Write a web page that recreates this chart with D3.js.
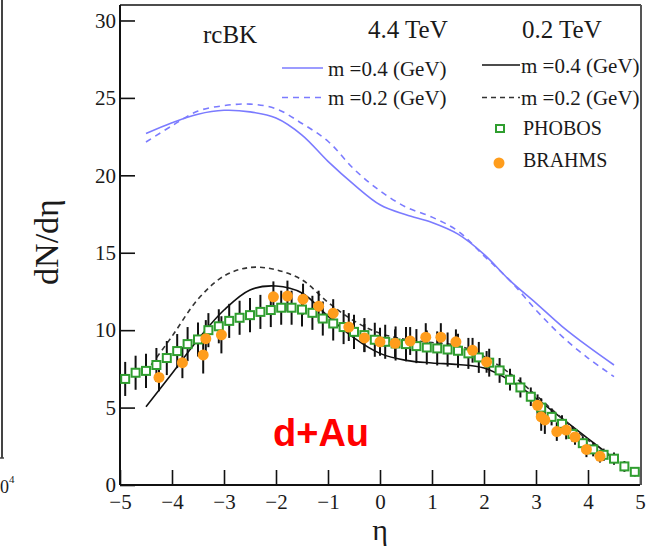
<!DOCTYPE html>
<html>
<head>
<meta charset="utf-8">
<script src="https://cdn.jsdelivr.net/npm/d3@7"></script>
<style>
  body { margin: 0; background: #fff; }
  text { font-family: "Liberation Serif", "DejaVu Serif", serif; fill: #1a1a1a; }
</style>
</head>
<body>
<div id="chart"></div>
<script>
// data
var curveEta = [-4.5, -4, -3.5, -3, -2.5, -2, -1.5, -1, -0.5, 0, 0.5, 1, 1.5, 2, 2.5, 3, 3.5, 4, 4.5];
var lhcM04 = [22.7, 23.4, 23.95, 24.2, 24.1, 23.7, 22.6, 20.9, 19.4, 18.1, 17.45, 16.95, 16.2, 14.9, 13.2, 11.75, 10.25, 8.95, 7.75];
var lhcM02 = [22.15, 23.2, 24.15, 24.5, 24.6, 24.3, 23.35, 22.2, 20.4, 19.0, 17.95, 17.3, 16.4, 14.8, 13.2, 11.3, 9.6, 8.2, 7.0];
var rhicM04 = [5.05, 7.2, 9.4, 11.3, 12.6, 12.85, 12.4, 10.9, 9.5, 8.5, 8.05, 7.88, 7.78, 7.55, 6.75, 5.6, 4.3, 3.0, 1.7];
var rhicM02 = [7.3, 9.6, 12.0, 13.5, 14.05, 13.9, 13.25, 11.8, 10.6, 9.8, 9.4, 9.2, 9.0, 8.3, 7.2, 5.8, 4.3, 2.9, 1.7];

var phobosEta = [-4.9, -4.7, -4.5, -4.3, -4.1, -3.9, -3.7, -3.5, -3.3, -3.1, -2.9, -2.7, -2.5, -2.3, -2.1, -1.9, -1.7, -1.5, -1.3, -1.1,
                 -0.9, -0.7, -0.5, -0.3, -0.1, 0.1, 0.3, 0.5, 0.7, 0.9, 1.1, 1.3, 1.5, 1.7, 1.9, 2.1, 2.3, 2.5, 2.7, 2.9,
                 3.1, 3.3, 3.5, 3.7, 3.9, 4.1, 4.3, 4.5, 4.7, 4.9];
var phobosN = [6.85, 7.25, 7.37, 7.75, 8.2, 8.65, 9.1, 9.4, 10.0, 10.25, 10.6, 10.8, 10.97, 11.18, 11.3, 11.45, 11.45, 11.33, 11.12, 10.75,
               10.43, 10.2, 9.89, 9.68, 9.38, 9.25, 9.14, 9.1, 8.97, 8.88, 8.82, 8.75, 8.67, 8.5, 8.24, 7.9, 7.4, 6.8, 6.3, 5.7,
               5.0, 4.4, 3.95, 3.3, 2.7, 2.3, 1.95, 1.7, 1.2, 0.85];
var phobosErr = [1.1, 1.1, 1.1, 1.1, 1.1, 1.1, 1.1, 1.1, 1.1, 1.1, 1.1, 1.1, 1.1, 1.1, 1.1, 1.1, 1.1, 1.1, 1.1, 1.1,
                 1.1, 1.1, 1.1, 1.1, 1.1, 1.1, 1.1, 1.1, 1.1, 1.1, 1.1, 1.1, 1.1, 1.0, 1.0, 0.9, 0.8, 0.7, 0.65, 0.6,
                 0.6, 0.55, 0.55, 0.5, 0.45, 0.45, 0.4, 0.4, 0.35, 0.3];

var brahmsEta = [-4.25, -3.8, -3.4, -3.35, -3.05, -2.05, -1.78, -1.48, -1.18, -0.9, -0.6, -0.3, 0.0, 0.29, 0.58, 0.88, 1.17, 1.46, 1.78, 2.05,
                 3.03, 3.1, 3.17, 3.4, 3.58, 3.75, 3.97, 4.23];
var brahmsN = [6.95, 7.9, 8.4, 9.45, 9.7, 12.15, 12.2, 12.0, 11.55, 11.1, 10.2, 9.5, 9.25, 9.15, 9.3, 9.55, 9.55, 9.25, 8.7, 7.95,
               5.15, 4.4, 4.2, 3.45, 3.55, 3.1, 2.3, 1.85];
var brahmsErr = [0.9, 1.0, 1.2, 1.2, 1.2, 1.0, 1.0, 1.0, 1.0, 0.9, 0.9, 0.9, 0.9, 0.9, 0.9, 0.9, 0.9, 0.8, 0.8, 0.7,
                 0.7, 0.9, 0.9, 0.6, 0.6, 0.5, 0.5, 0.4];

var xTicks = [-5, -4, -3, -2, -1, 0, 1, 2, 3, 4, 5];
var yTicks = [0, 5, 10, 15, 20, 25, 30];

// frame of the plot
var margin = {top: 5, left: 120},
    width = 520,
    height = 480;

var svg = d3.select("#chart")
  .append("svg")
    .attr("width", 650)
    .attr("height", 550);

var x = d3.scaleLinear().domain([-5, 5]).range([margin.left, margin.left + width]);
var y = d3.scaleLinear().domain([0, 31]).range([margin.top + height, margin.top]);

// bit of the neighbouring panel on the left edge
svg.append("line")
  .attr("x1", 2).attr("x2", 2).attr("y1", 0).attr("y2", 458)
  .attr("stroke", "#444").attr("stroke-width", 2);
svg.append("line")
  .attr("x1", 0).attr("x2", 4).attr("y1", 458).attr("y2", 458)
  .attr("stroke", "#444").attr("stroke-width", 1.5);
svg.append("text").attr("x", 0).attr("y", 493).style("font-size", "18px").text("0");
svg.append("text").attr("x", 9).attr("y", 483).style("font-size", "11px").text("4");

// axes, ticks pointing inward
var gy = svg.append("g").attr("transform", "translate(" + margin.left + ",0)");
gy.call(d3.axisLeft(y).tickValues(d3.range(0, 31, 1)).tickSize(-8).tickFormat(""));
gy.call(d3.axisLeft(y).tickValues(yTicks).tickSize(-15).tickPadding(4));

var gx = svg.append("g").attr("transform", "translate(0," + (margin.top + height) + ")");
gx.call(d3.axisBottom(x).tickValues(d3.range(-50, 51, 2).map(function(v){ return v / 10; })).tickSize(-8).tickFormat(""));
gx.call(d3.axisBottom(x).tickValues(xTicks).tickSize(-15).tickPadding(9));

svg.selectAll(".domain").remove();
svg.selectAll(".tick line").attr("stroke", "#111").attr("stroke-width", 1.6);
svg.selectAll(".tick text")
  .style("font-family", "Liberation Serif, serif")
  .style("font-size", "21px")
  .attr("fill", "#1a1a1a");

// frame
svg.append("line").attr("x1", x(-5)).attr("x2", x(5)).attr("y1", y(0)).attr("y2", y(0)).attr("stroke", "#111").attr("stroke-width", 2);
svg.append("line").attr("x1", x(-5)).attr("x2", x(-5)).attr("y1", margin.top).attr("y2", y(0)).attr("stroke", "#111").attr("stroke-width", 2);
svg.append("line").attr("x1", x(-5)).attr("x2", x(5) + 1).attr("y1", margin.top).attr("y2", margin.top).attr("stroke", "#111").attr("stroke-width", 1.5);
svg.append("line").attr("x1", x(5) + 1).attr("x2", x(5) + 1).attr("y1", margin.top).attr("y2", y(0)).attr("stroke", "#555").attr("stroke-width", 2);

// theory curves
var line = d3.line()
  .x(function(d){ return x(d[0]); })
  .y(function(d){ return y(d[1]); })
  .curve(d3.curveCatmullRom);

var curves = [
  {vals: lhcM04, color: "#7b7bff", dash: null},
  {vals: lhcM02, color: "#7b7bff", dash: "6,5"},
  {vals: rhicM04, color: "#111", dash: null},
  {vals: rhicM02, color: "#333", dash: "5,4"}
];

curves.forEach(function(c){
  svg.append("path")
    .datum(d3.zip(curveEta, c.vals))
    .attr("d", line)
    .attr("fill", "none")
    .attr("stroke", c.color)
    .attr("stroke-width", 1.6)
    .attr("stroke-dasharray", c.dash);
});

// error bars
var phobos = d3.zip(phobosEta, phobosN, phobosErr);
var brahms = d3.zip(brahmsEta, brahmsN, brahmsErr);

svg.selectAll("line.perr")
  .data(phobos.concat(brahms))
  .enter()
  .append("line")
    .attr("class", "perr")
    .attr("x1", function(d){ return x(d[0]); })
    .attr("x2", function(d){ return x(d[0]); })
    .attr("y1", function(d){ return y(d[1] - d[2]); })
    .attr("y2", function(d){ return y(d[1] + d[2]); })
    .attr("stroke", "#111")
    .attr("stroke-width", 2);

// PHOBOS open squares
svg.selectAll("rect.phobos")
  .data(phobos)
  .enter()
  .append("rect")
    .attr("class", "phobos")
    .attr("x", function(d){ return x(d[0]) - 4; })
    .attr("y", function(d){ return y(d[1]) - 4; })
    .attr("width", 8)
    .attr("height", 8)
    .attr("fill", "#fff")
    .attr("stroke", "#2f9e2f")
    .attr("stroke-width", 2);

// BRAHMS dots
svg.selectAll("circle.brahms")
  .data(brahms)
  .enter()
  .append("circle")
    .attr("class", "brahms")
    .attr("cx", function(d){ return x(d[0]); })
    .attr("cy", function(d){ return y(d[1]); })
    .attr("r", 5.5)
    .attr("fill", "#ff9d1c");

// labels inside the plot
svg.append("text").attr("x", 203).attr("y", 43).style("font-size", "25px").text("rcBK");
svg.append("text").attr("x", 368).attr("y", 38).style("font-size", "25px").text("4.4 TeV");
svg.append("text").attr("x", 522).attr("y", 38).style("font-size", "25px").text("0.2 TeV");

var legend = [
  {x1: 282, x2: 323, ly: 68, tx: 328, ty: 76, color: "#7b7bff", dash: null, label: "m =0.4 (GeV)"},
  {x1: 282, x2: 323, ly: 97.5, tx: 328, ty: 105, color: "#7b7bff", dash: "6,5", label: "m =0.2 (GeV)"},
  {x1: 482, x2: 520, ly: 65, tx: 521, ty: 73, color: "#111", dash: null, label: "m =0.4 (GeV)"},
  {x1: 482, x2: 520, ly: 97.5, tx: 521, ty: 105, color: "#333", dash: "5,4", label: "m =0.2 (GeV)"}
];
legend.forEach(function(l){
  svg.append("line")
    .attr("x1", l.x1).attr("x2", l.x2).attr("y1", l.ly).attr("y2", l.ly)
    .attr("stroke", l.color).attr("stroke-width", 1.6).attr("stroke-dasharray", l.dash);
  svg.append("text").attr("x", l.tx).attr("y", l.ty).style("font-size", "21px").text(l.label);
});

svg.append("rect").attr("x", 496).attr("y", 125).attr("width", 8).attr("height", 7)
  .attr("fill", "#fff").attr("stroke", "#2f9e2f").attr("stroke-width", 2);
svg.append("text").attr("x", 523).attr("y", 135).style("font-size", "20px").text("PHOBOS");
svg.append("circle").attr("cx", 499).attr("cy", 163).attr("r", 5.5).attr("fill", "#ff9d1c");
svg.append("text").attr("x", 523).attr("y", 167).style("font-size", "20px").text("BRAHMS");

svg.append("text")
  .attr("x", 273).attr("y", 446)
  .style("font-family", "Liberation Sans, Arial, sans-serif")
  .style("font-weight", "bold")
  .style("font-size", "38px")
  .style("fill", "#ff0000")
  .text("d+Au");

// axis titles
svg.append("text")
  .attr("transform", "translate(58,242) rotate(-90)")
  .attr("text-anchor", "middle")
  .style("font-size", "34px")
  .text("dN/dη");

svg.append("text")
  .attr("x", 380).attr("y", 540)
  .attr("text-anchor", "middle")
  .style("font-size", "30px")
  .text("η");
</script>
</body>
</html>
